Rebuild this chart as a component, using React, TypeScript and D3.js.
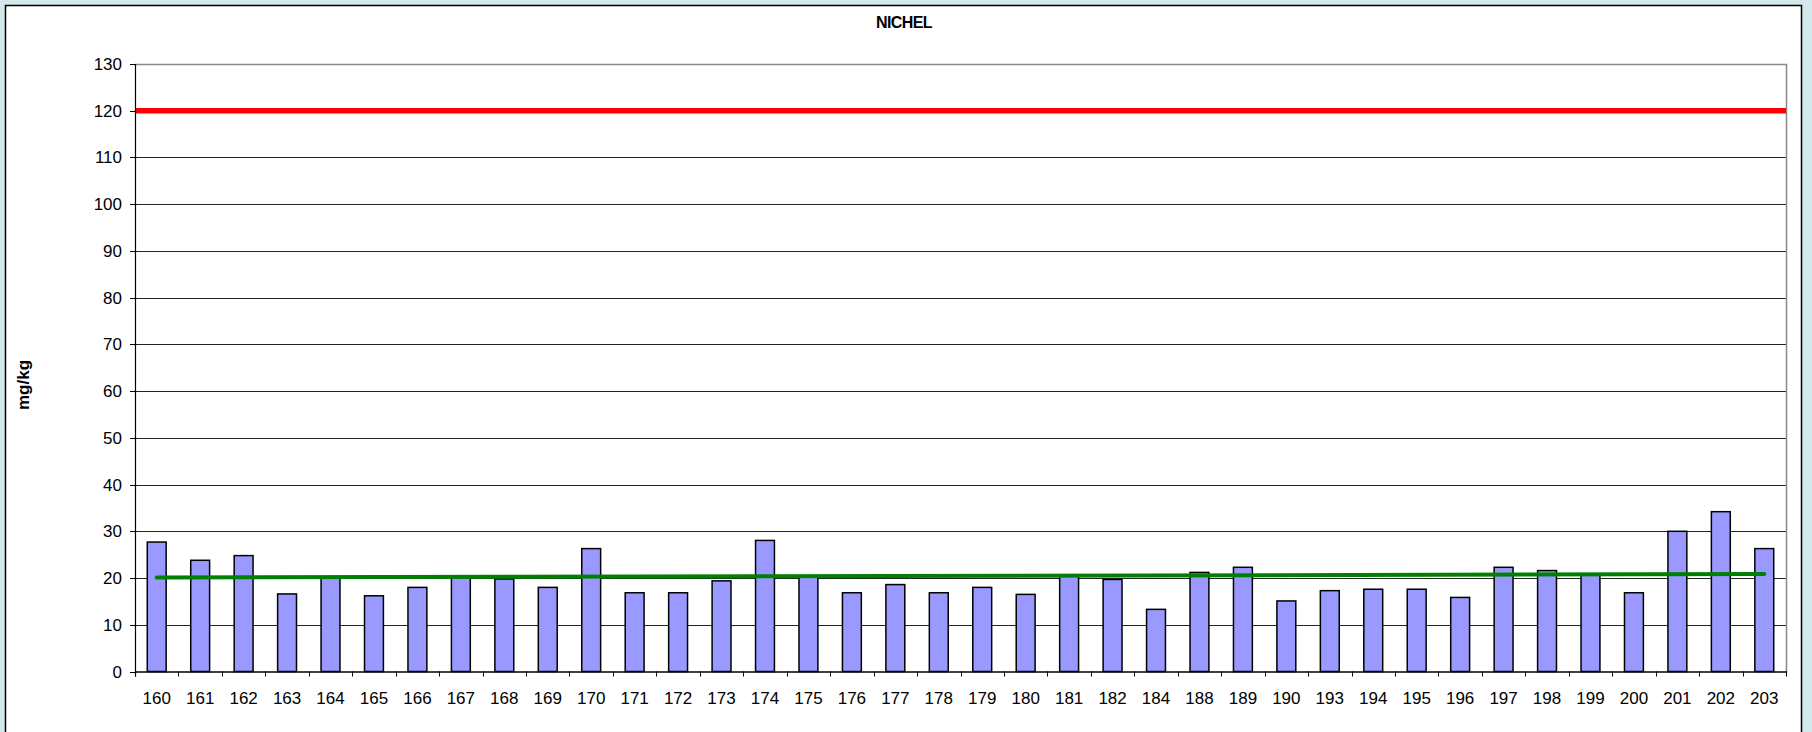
import React from "react";
import * as d3 from "d3";

const categories = [
  "160", "161", "162", "163", "164", "165", "166", "167", "168", "169",
  "170", "171", "172", "173", "174", "175", "176", "177", "178", "179",
  "180", "181", "182", "184", "188", "189", "190", "193", "194", "195",
  "196", "197", "198", "199", "200", "201", "202", "203",
];

const values = [
  27.7, 23.8, 24.8, 16.6, 20.0, 16.2, 18.0, 20.1, 19.8, 18.0,
  26.3, 16.85, 16.85, 19.4, 28.05, 20.2, 16.85, 18.6, 16.85, 18.0,
  16.5, 20.4, 19.7, 13.3, 21.2, 22.3, 15.1, 17.3, 17.6, 17.6,
  15.85, 22.3, 21.6, 20.6, 16.85, 30.0, 34.2, 26.3,
];

// trend line read at first and last sample
const trendStart = 20.1;
const trendEnd = 20.85;
const limitValue = 120;

const yTicks = [0, 10, 20, 30, 40, 50, 60, 70, 80, 90, 100, 110, 120, 130];

const W = 1812;
const H = 732;
const left = 135;
const right = 1786;
const top = 64;
const bottom = 671.5;
const font = "Liberation Sans, Arial, sans-serif";

export default function App() {
  const x = d3.scaleBand<string>().domain(categories).range([left, right]).padding(0);
  const y = d3.scaleLinear().domain([0, 130]).range([bottom, top]);
  const barW = x.bandwidth() / 2.3;
  const cx = (c: string) => (x(c) as number) + x.bandwidth() / 2;

  const trend = d3.line<[number, number]>()
    .x(d => d[0])
    .y(d => y(d[1]));
  const trendPts: [number, number][] = [
    [cx(categories[0]), trendStart],
    [cx(categories[categories.length - 1]), trendEnd],
  ];

  return (
    <svg width={W} height={H} style={{ position: "absolute", left: 0, top: 0, display: "block" }}>
      <rect x={0} y={0} width={W} height={H} fill="#d1e9eb" />
      <rect x={5.5} y={5.5} width={1796} height={H + 10} fill="#fff" stroke="#000" strokeWidth={1.5} />

      <text x={904} y={27.5} textAnchor="middle" fontFamily={font} fontWeight="bold" fontSize={16} letterSpacing={-0.6}>
        NICHEL
      </text>

      {/* grid */}
      {yTicks.filter(t => t > 0 && t < 130).map(t => (
        <line key={t} x1={left} x2={right} y1={Math.round(y(t)) + 0.5} y2={Math.round(y(t)) + 0.5} stroke="#222" strokeWidth={1} />
      ))}
      {/* plot border top/right */}
      <path d={`M${left},${top + 0.5}H${right + 0.5}V${bottom}`} fill="none" stroke="#888" strokeWidth={1.5} />

      {/* bars */}
      {categories.map((c, i) => (
        <rect
          key={c}
          x={cx(c) - barW / 2}
          y={y(values[i])}
          width={barW}
          height={bottom - y(values[i])}
          fill="#9999ff"
          stroke="#000"
          strokeWidth={1.5}
        />
      ))}

      {/* limit line */}
      <line x1={left} x2={right} y1={y(limitValue)} y2={y(limitValue)} stroke="#ff0000" strokeWidth={5.5} />

      {/* trend line */}
      <path d={trend(trendPts) || ""} fill="none" stroke="#008000" strokeWidth={4} strokeLinecap="round" />

      {/* y axis */}
      <line x1={left + 0.5} x2={left + 0.5} y1={top} y2={bottom + 5} stroke="#000" strokeWidth={1.2} />
      {yTicks.map(t => (
        <g key={t}>
          <line x1={left - 5} x2={left} y1={Math.round(y(t)) + 0.5} y2={Math.round(y(t)) + 0.5} stroke="#000" />
          <text x={122} y={y(t) + 6} textAnchor="end" fontFamily={font} fontSize={17}>
            {t}
          </text>
        </g>
      ))}

      {/* x axis */}
      <line x1={left} x2={right + 1} y1={bottom + 0.5} y2={bottom + 0.5} stroke="#000" strokeWidth={1.5} />
      {[...categories.map(c => x(c) as number), right].map((px, i) => (
        <line key={i} x1={Math.round(px) + 0.5} x2={Math.round(px) + 0.5} y1={bottom} y2={bottom + 5} stroke="#000" />
      ))}
      {categories.map(c => (
        <text key={c} x={cx(c)} y={704} textAnchor="middle" fontFamily={font} fontSize={17}>
          {c}
        </text>
      ))}

      <text
        transform={`translate(29,385) rotate(-90)`}
        textAnchor="middle"
        fontFamily={font}
        fontWeight="bold"
        fontSize={17}
      >
        mg/kg
      </text>
    </svg>
  );
}
